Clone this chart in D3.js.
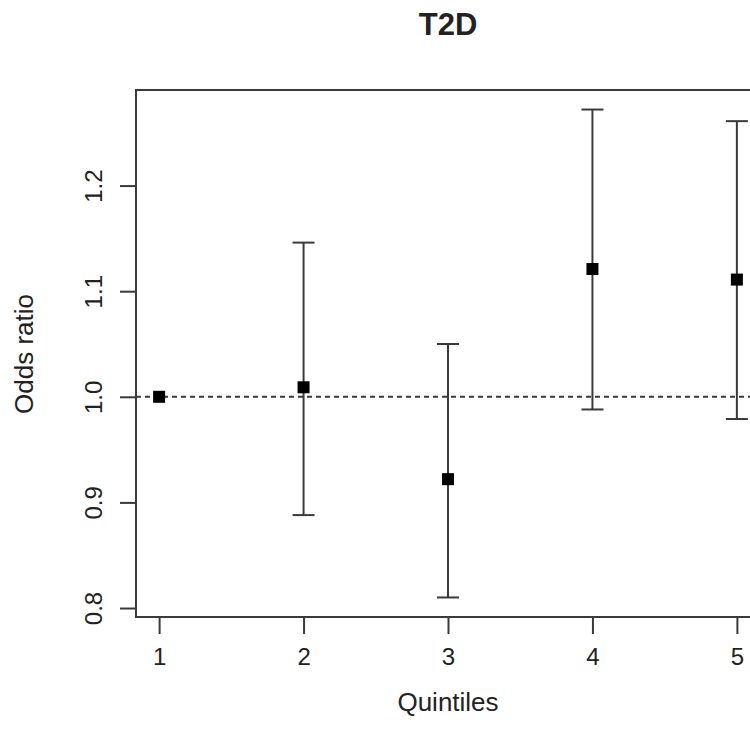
<!DOCTYPE html>
<html>
<head>
<meta charset="utf-8">
<script src="https://cdn.jsdelivr.net/npm/d3@7"></script>
<style>
  body { margin: 0; background: #fff; }
  text { font-family: "Liberation Sans", Arial, sans-serif; fill: #222; }
</style>
</head>
<body>
<div id="chart"></div>
<script>
// Odds ratio by quintile, with 95% CI
const quintiles = [1, 2, 3, 4, 5];
const oddsRatio = [1.0, 1.009, 0.922, 1.121, 1.111];
const lowerCI = [1.0, 0.888, 0.810, 0.988, 0.979];
const upperCI = [1.0, 1.146, 1.050, 1.272, 1.261];
const yTicks = [0.8, 0.9, 1.0, 1.1, 1.2];

const width = 750, height = 745;
const plot = { left: 136, top: 90, right: 760, bottom: 617 };

const svg = d3.select("#chart")
    .append("svg")
    .attr("width", width)
    .attr("height", height);

const x = d3.scaleLinear()
    .domain([0.84, 5.16])
    .range([plot.left, plot.right]);

const y = d3.scaleLinear()
    .domain([0.7915, 1.2905])
    .range([plot.bottom, plot.top]);

const lineColor = "#3a3a3a";

// box
svg.append("rect")
    .attr("x", plot.left)
    .attr("y", plot.top)
    .attr("width", plot.right - plot.left)
    .attr("height", plot.bottom - plot.top)
    .attr("fill", "none")
    .attr("stroke", lineColor)
    .attr("stroke-width", 2);

// axes
const xAxis = svg.append("g")
    .attr("transform", "translate(0," + plot.bottom + ")")
    .call(d3.axisBottom(x).tickValues(quintiles).tickSize(17).tickPadding(14).tickFormat(d3.format("d")));

const yAxis = svg.append("g")
    .attr("transform", "translate(" + plot.left + ",0)")
    .call(d3.axisLeft(y).tickValues(yTicks).tickSize(16).tickPadding(0).tickFormat(d3.format(".1f")));

[xAxis, yAxis].forEach(function (g) {
    g.select(".domain").remove();
    g.selectAll(".tick line").attr("stroke", lineColor).attr("stroke-width", 2);
    g.selectAll(".tick text")
        .style("font-size", "24px")
        .attr("fill", "#222");
});

yAxis.selectAll(".tick text")
    .attr("x", 0)
    .attr("dy", null)
    .attr("text-anchor", "middle")
    .attr("transform", "translate(-43,0) rotate(-90)")
    .attr("dominant-baseline", "central");

// reference line at 1
svg.append("line")
    .attr("x1", plot.left)
    .attr("x2", plot.right)
    .attr("y1", y(1))
    .attr("y2", y(1))
    .attr("stroke", lineColor)
    .attr("stroke-width", 2)
    .attr("stroke-dasharray", "5,4");

// error bars
const data = quintiles.map(function (q, i) {
    return { q: q, or: oddsRatio[i], lo: lowerCI[i], hi: upperCI[i] };
});

const bars = svg.selectAll(".ci")
    .data(data.filter(d => d.hi > d.lo))
    .enter()
    .append("g")
    .attr("class", "ci")
    .attr("stroke", lineColor)
    .attr("stroke-width", 2);

bars.append("line")
    .attr("x1", d => x(d.q)).attr("x2", d => x(d.q))
    .attr("y1", d => y(d.lo)).attr("y2", d => y(d.hi));

bars.append("line")
    .attr("x1", d => x(d.q) - 11).attr("x2", d => x(d.q) + 11)
    .attr("y1", d => y(d.hi)).attr("y2", d => y(d.hi));

bars.append("line")
    .attr("x1", d => x(d.q) - 11).attr("x2", d => x(d.q) + 11)
    .attr("y1", d => y(d.lo)).attr("y2", d => y(d.lo));

// points
svg.selectAll(".pt")
    .data(data)
    .enter()
    .append("rect")
    .attr("class", "pt")
    .attr("x", d => x(d.q) - 6)
    .attr("y", d => y(d.or) - 6)
    .attr("width", 12)
    .attr("height", 12)
    .attr("fill", "#000");

// title and labels
svg.append("text")
    .attr("x", 448)
    .attr("y", 35)
    .attr("text-anchor", "middle")
    .style("font-size", "31px")
    .style("font-weight", "bold")
    .attr("fill", "#111")
    .text("T2D");

svg.append("text")
    .attr("x", 448)
    .attr("y", 711)
    .attr("text-anchor", "middle")
    .style("font-size", "26px")
    .text("Quintiles");

svg.append("text")
    .attr("transform", "translate(33,354) rotate(-90)")
    .attr("text-anchor", "middle")
    .style("font-size", "26px")
    .text("Odds ratio");
</script>
</body>
</html>
